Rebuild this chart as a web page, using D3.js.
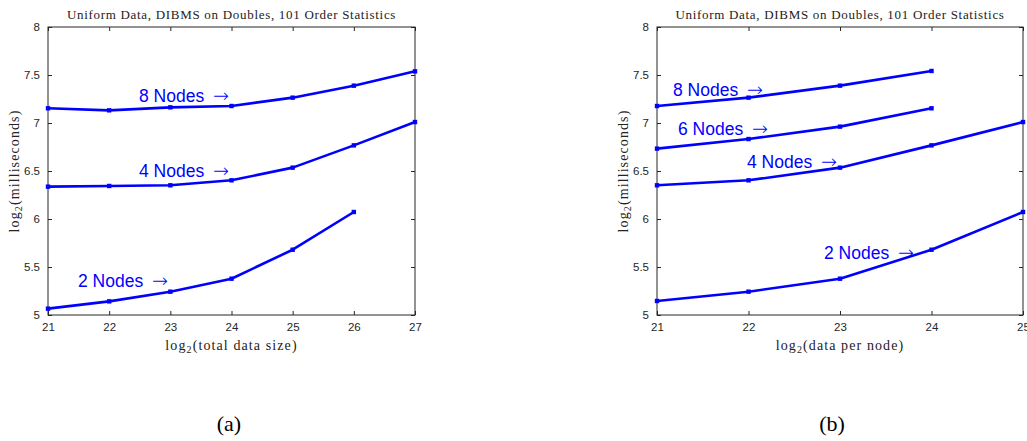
<!DOCTYPE html>
<html>
<head>
<meta charset="utf-8">
<script src="https://cdn.jsdelivr.net/npm/d3@7"></script>
<style>
  body { margin: 0; background: #fff; }
  svg { display: block; }
</style>
</head>
<body>
<div id="chart"></div>
<script>
// ---- data ----
const titleText = "Uniform Data, DIBMS on Doubles, 101 Order Statistics";
const yTicks = [5, 5.5, 6, 6.5, 7, 7.5, 8];

const xTicksA = [21, 22, 23, 24, 25, 26, 27];
const nodes8A = [7.153, 7.132, 7.163, 7.177, 7.264, 7.389, 7.538];
const nodes4A = [6.337, 6.344, 6.351, 6.403, 6.535, 6.767, 7.01];
const nodes2A = [5.066, 5.142, 5.243, 5.378, 5.68, 6.073];

const xTicksB = [21, 22, 23, 24, 25];
const nodes8B = [7.177, 7.264, 7.389, 7.542];
const nodes6B = [6.733, 6.833, 6.962, 7.153];
const nodes4B = [6.351, 6.403, 6.535, 6.767, 7.01];
const nodes2B = [5.146, 5.243, 5.378, 5.68, 6.073];

const width = 1027, height = 441;
const blue = "#0000ff";
const axisColor = "#262626";
const serif = "'Liberation Serif', 'Times New Roman', serif";

const svg = d3.select("#chart").append("svg")
  .attr("width", width)
  .attr("height", height);

function drawPanel(cfg) {
  const x = d3.scaleLinear().domain(cfg.xDomain).range([cfg.left, cfg.right]);
  const y = d3.scaleLinear().domain([5, 8]).range([315, 27]);
  const g = svg.append("g");

  // box
  g.append("rect")
    .attr("x", cfg.left).attr("y", y(8))
    .attr("width", cfg.right - cfg.left).attr("height", y(5) - y(8))
    .attr("fill", "none").attr("stroke", axisColor).attr("stroke-width", 1);

  // axes (ticks inward)
  const ax = g.append("g").attr("transform", `translate(0,${y(5)})`)
    .call(d3.axisBottom(x).tickValues(cfg.xTicks).tickSize(-4).tickPadding(8).tickFormat(d => d));
  const axTop = g.append("g").attr("transform", `translate(0,${y(8)})`)
    .call(d3.axisTop(x).tickValues(cfg.xTicks).tickSize(-4).tickFormat(""));
  const ay = g.append("g").attr("transform", `translate(${cfg.left},0)`)
    .call(d3.axisLeft(y).tickValues(yTicks).tickSize(-4).tickPadding(8).tickFormat(d => d));
  const ayR = g.append("g").attr("transform", `translate(${cfg.right},0)`)
    .call(d3.axisRight(y).tickValues(yTicks).tickSize(-4).tickFormat(""));
  [ax, axTop, ay, ayR].forEach(a => {
    a.select(".domain").remove();
    a.selectAll("line").attr("stroke", axisColor);
    a.selectAll("text").attr("fill", axisColor)
      .style("font-family", "'Liberation Sans', Arial, sans-serif")
      .style("font-size", "11.5px");
  });

  // title
  g.append("text")
    .attr("x", (cfg.left + cfg.right) / 2).attr("y", 19)
    .attr("text-anchor", "middle")
    .style("font-family", serif)
    .style("font-size", "13px")
    .style("letter-spacing", "0.7px")
    .attr("fill", "#222")
    .text(titleText);

  // x label
  const xl = g.append("text")
    .attr("x", (cfg.left + cfg.right) / 2).attr("y", 350)
    .attr("text-anchor", "middle")
    .style("font-family", serif)
    .style("font-size", "14px")
    .style("letter-spacing", "1.1px")
    .attr("fill", "#222");
  xl.append("tspan").text("log");
  xl.append("tspan").attr("dy", 3).style("font-size", "10px").text("2");
  xl.append("tspan").attr("dy", -3).text(cfg.xLabel);

  // y label
  const yl = g.append("text")
    .attr("transform", `translate(${cfg.left - 29},${(y(5) + y(8)) / 2}) rotate(-90)`)
    .attr("text-anchor", "middle")
    .style("font-family", serif)
    .style("font-size", "14px")
    .style("letter-spacing", "1.1px")
    .attr("fill", "#222");
  yl.append("tspan").text("log");
  yl.append("tspan").attr("dy", 3).style("font-size", "10px").text("2");
  yl.append("tspan").attr("dy", -3).text("(milliseconds)");

  // lines
  const line = d3.line().x((d, i) => x(cfg.xTicks[i])).y(d => y(d));
  cfg.series.forEach(s => {
    g.append("path").datum(s.values)
      .attr("d", line)
      .attr("fill", "none").attr("stroke", blue)
      .attr("stroke-width", 2.6).attr("stroke-linejoin", "round");
    g.selectAll(null).data(s.values).enter().append("rect")
      .attr("x", (d, i) => x(cfg.xTicks[i]) - 2.2)
      .attr("y", d => y(d) - 2.2)
      .attr("width", 4.4).attr("height", 4.4)
      .attr("fill", blue);
    const t = g.append("text")
      .attr("x", s.lx).attr("y", s.ly)
      .attr("fill", blue)
      .style("font-family", "'Liberation Sans', Arial, sans-serif")
      .style("font-size", "17.5px");
    t.append("tspan").text(s.label + " ");
    t.append("tspan")
      .attr("dx", 4)
      .style("font-family", "'DejaVu Sans', sans-serif")
      .style("font-weight", "200")
      .style("font-size", "19px")
      .text("\u2192");
  });

  // panel caption
  svg.append("text")
    .attr("x", cfg.capX).attr("y", 431)
    .attr("text-anchor", "middle")
    .style("font-family", serif)
    .style("font-size", "22px")
    .attr("fill", "#000")
    .text(cfg.caption);
}

drawPanel({
  left: 48, right: 415, xDomain: [21, 27], xTicks: xTicksA,
  xLabel: "(total data size)", caption: "(a)", capX: 229,
  series: [
    { values: nodes8A, label: "8 Nodes", lx: 139, ly: 102 },
    { values: nodes4A, label: "4 Nodes", lx: 139, ly: 177 },
    { values: nodes2A, label: "2 Nodes", lx: 78, ly: 287 }
  ]
});

drawPanel({
  left: 657, right: 1023, xDomain: [21, 25], xTicks: xTicksB,
  xLabel: "(data per node)", caption: "(b)", capX: 832,
  series: [
    { values: nodes8B, label: "8 Nodes", lx: 673, ly: 96 },
    { values: nodes6B, label: "6 Nodes", lx: 678, ly: 135 },
    { values: nodes4B, label: "4 Nodes", lx: 747, ly: 168 },
    { values: nodes2B, label: "2 Nodes", lx: 824, ly: 259 }
  ]
});
</script>
</body>
</html>
